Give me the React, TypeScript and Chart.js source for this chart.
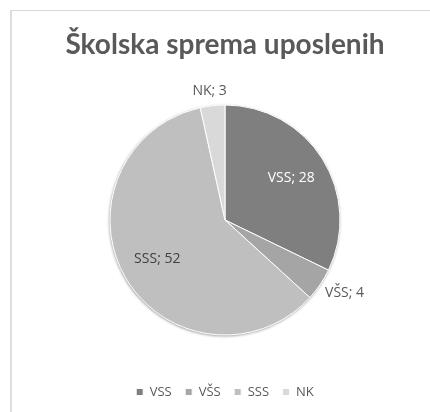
import React, { useEffect, useRef } from "react";
import { Chart, registerables } from "chart.js";

Chart.register(...registerables);

const categories = ["VSS", "VŠS", "SSS", "NK"];
const values = [28, 4, 52, 3];
const sliceColors = ["#7f7f7f", "#a5a5a5", "#bfbfbf", "#d9d9d9"];
const titleText = "Školska sprema uposlenih";

const FONT = "'Open Sans', Lato, sans-serif";
const TITLE_FONT = "Lato, 'Open Sans', sans-serif";

const shadowPlugin = {
  id: "pieShadow",
  beforeDatasetsDraw(chart: any) {
    const meta = chart.getDatasetMeta(0);
    const arc = meta.data[0];
    if (!arc) return;
    const { x, y, outerRadius } = arc.getProps(["x", "y", "outerRadius"], true);
    const ctx = chart.ctx;
    ctx.save();
    ctx.beginPath();
    ctx.arc(x, y, outerRadius, 0, Math.PI * 2);
    ctx.shadowColor = "rgba(0,0,0,0.45)";
    ctx.shadowBlur = 3;
    ctx.shadowOffsetX = -0.5;
    ctx.shadowOffsetY = 1;
    ctx.fillStyle = "#bfbfbf";
    ctx.fill();
    ctx.restore();
  },
};

function brightness(hex: string) {
  const n = parseInt(hex.slice(1), 16);
  return (((n >> 16) & 255) + ((n >> 8) & 255) + (n & 255)) / 3;
}

const labelPlugin = {
  id: "sliceLabels",
  afterDatasetsDraw(chart: any) {
    const meta = chart.getDatasetMeta(0);
    const ctx = chart.ctx;
    const total = values.reduce((a, b) => a + b, 0);
    ctx.save();
    ctx.font = `14px ${FONT}`;
    ctx.textAlign = "center";
    ctx.textBaseline = "middle";
    meta.data.forEach((arc: any, i: number) => {
      const { x, y, startAngle, endAngle, outerRadius } = arc.getProps(
        ["x", "y", "startAngle", "endAngle", "outerRadius"],
        true
      );
      const mid = (startAngle + endAngle) / 2;
      const text = `${categories[i]}; ${values[i]}`;
      const frac = values[i] / total;
      const c = Math.cos(mid);
      const s = Math.sin(mid);
      let lx: number, ly: number, color: string;
      if (frac > 0.1) {
        lx = x + c * outerRadius * 0.68;
        ly = y + s * outerRadius * 0.68;
        color = brightness(sliceColors[i]) < 150 ? "#ffffff" : "#404040";
      } else {
        const w = ctx.measureText(text).width;
        const h = 10;
        const r = outerRadius + 10;
        lx = x + c * r + (w / 2) * c;
        ly = y + s * r + (h / 2) * s;
        color = "#595959";
      }
      ctx.fillStyle = color;
      ctx.fillText(text, lx, ly);
    });
    ctx.restore();
  },
};

export default function App() {
  const ref = useRef<HTMLCanvasElement | null>(null);

  useEffect(() => {
    if (!ref.current) return;
    const chart = new Chart(ref.current, {
      type: "pie",
      data: {
        labels: categories,
        datasets: [
          {
            data: values,
            backgroundColor: sliceColors,
            borderColor: "#ffffff",
            borderWidth: 1,
            hoverOffset: 0,
            radius: 115,
          },
        ],
      },
      options: {
        animation: false,
        responsive: false,
        events: [],
        layout: { padding: { top: 10, left: 20, right: 0, bottom: 3.5 } },
        plugins: {
          title: {
            display: true,
            text: titleText,
            color: "#595959",
            font: { family: TITLE_FONT, size: 28, weight: "bold", lineHeight: 1.2 },
            padding: { top: 18.2, bottom: 6.2 },
          },
          legend: {
            position: "bottom",
            labels: {
              boxWidth: 7,
              boxHeight: 7,
              padding: 13.5,
              color: "#595959",
              font: { family: FONT, size: 13 },
            },
          },
          tooltip: { enabled: false },
        },
      },
      plugins: [shadowPlugin, labelPlugin],
    });
    return () => chart.destroy();
  }, []);

  return (
    <div style={{ position: "absolute", left: 0, top: 0, width: 430, height: 412, background: "#fff" }}>
      <div
        style={{
          position: "absolute",
          left: 10,
          top: 10,
          width: 430,
          height: 412,
          borderTop: "1px solid #d9d9d9",
          borderLeft: "2px solid #dedede",
        }}
      />
      <canvas ref={ref} width={430} height={412} style={{ position: "absolute", left: 0, top: 0 }} />
    </div>
  );
}
